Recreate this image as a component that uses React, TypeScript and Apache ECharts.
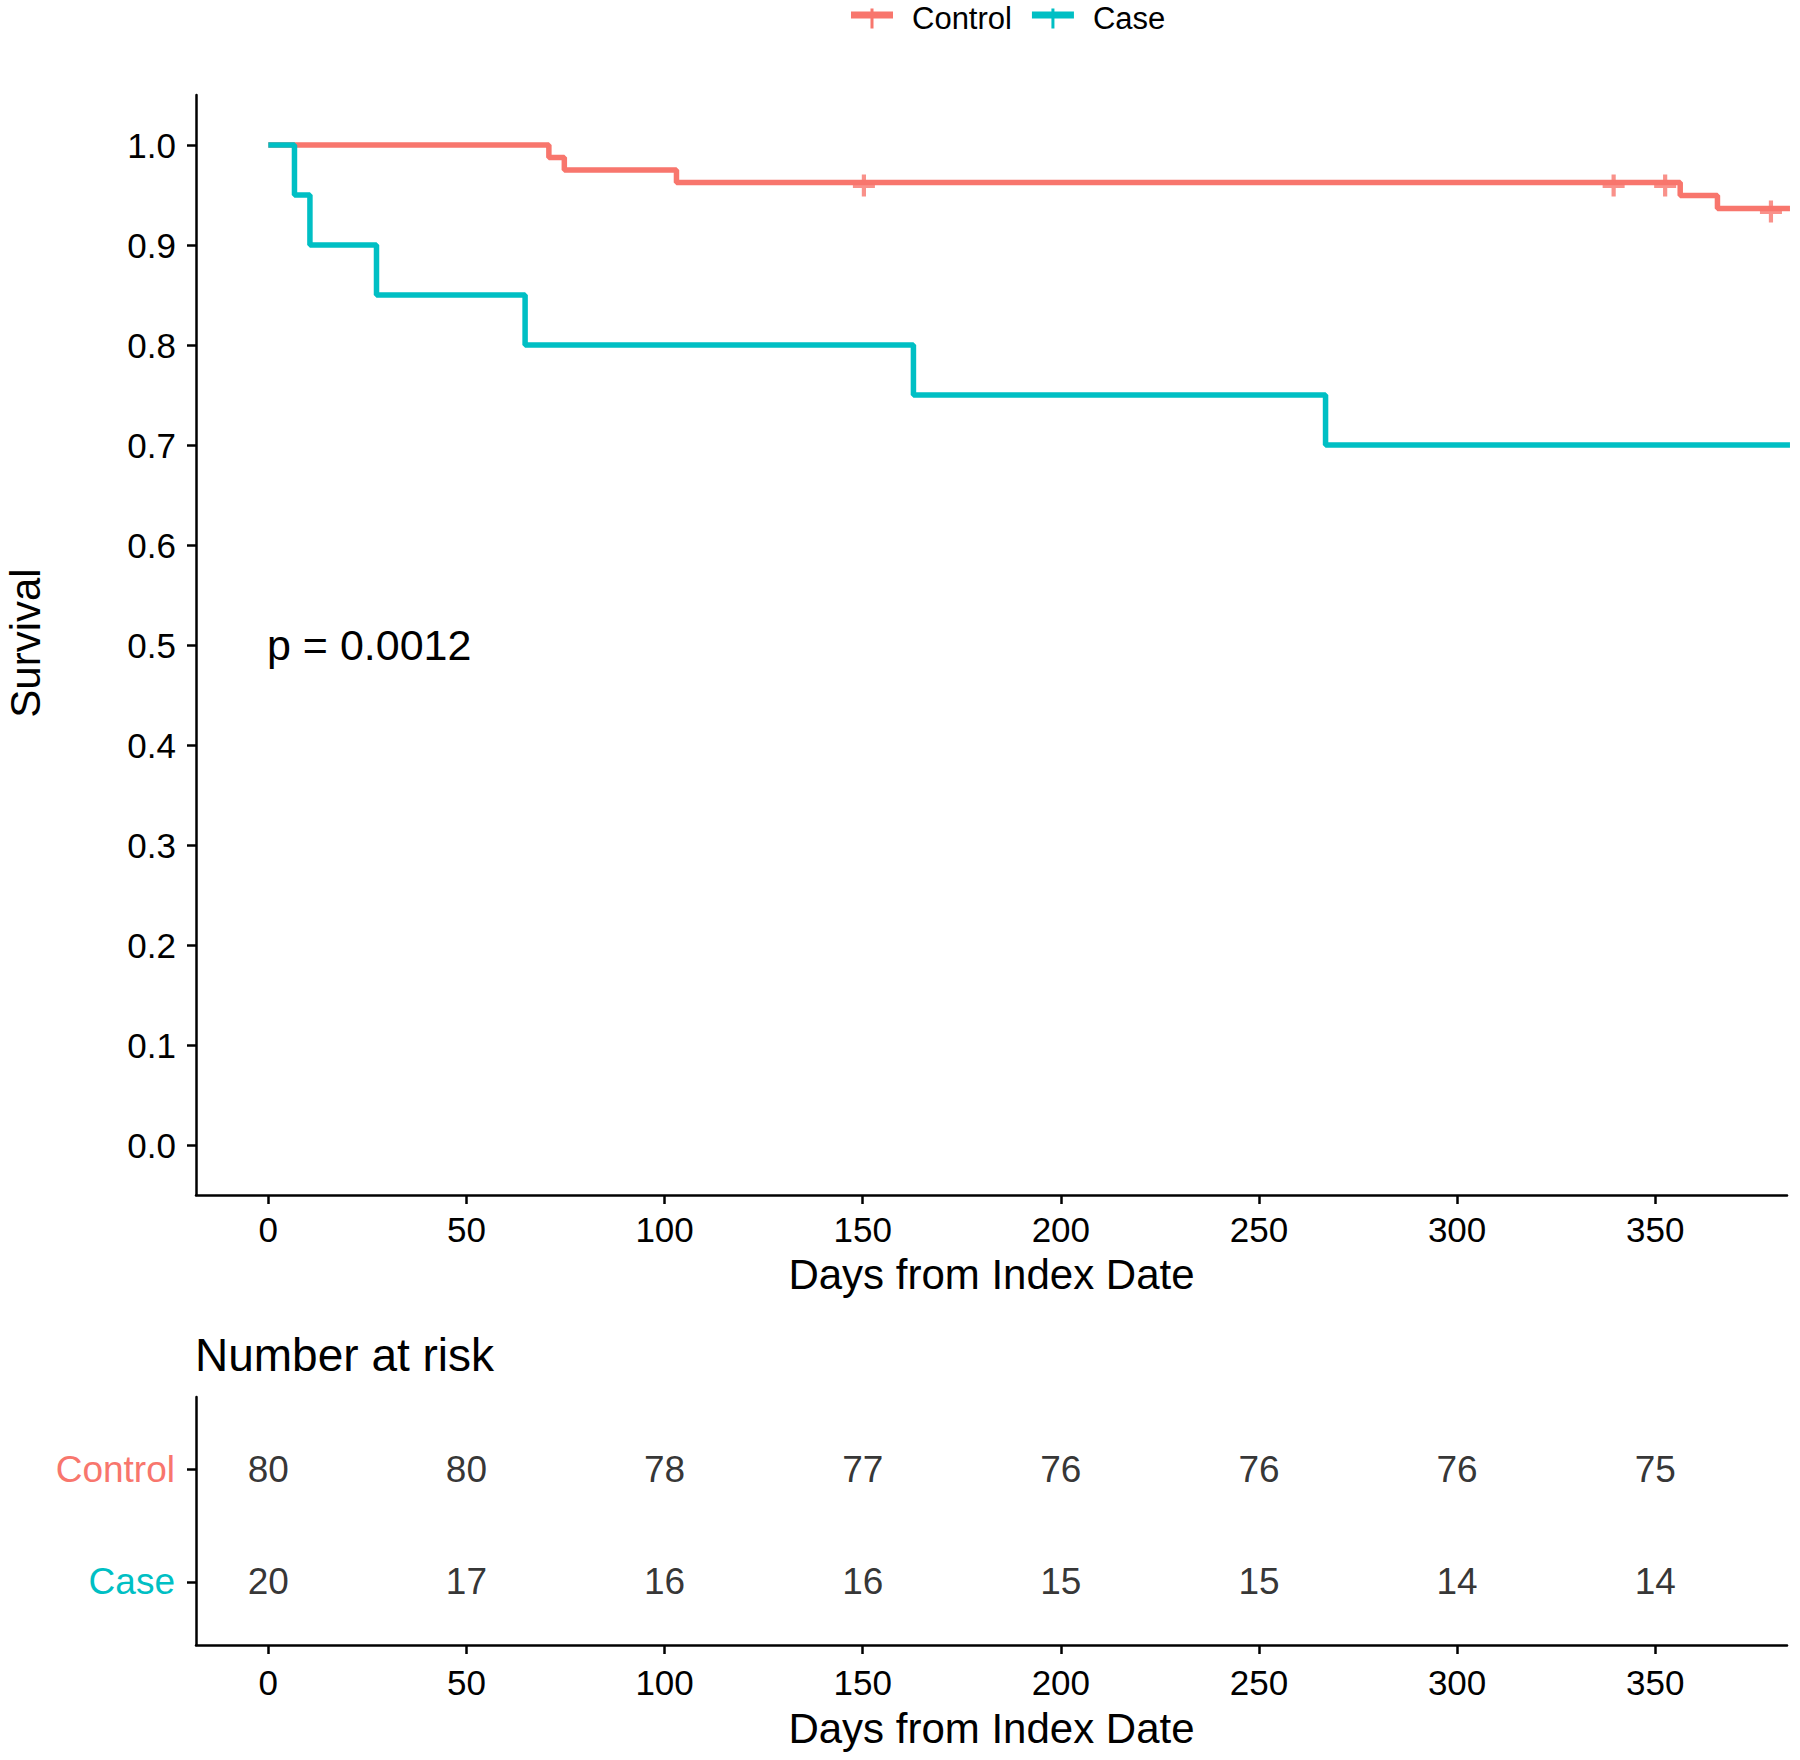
import React, { useEffect, useRef } from "react";
import * as echarts from "echarts";

// ---- Data ----
const groups = ["Control", "Case"];
const groupColors = ["#F8766D", "#00BFC4"];

const controlTimes = [0, 70.8, 74.7, 103, 356.3, 365.7, 384];
const controlSurv = [1, 0.9875, 0.975, 0.9625, 0.9495, 0.9365, 0.9365];
const controlCensorTimes = [150.3, 339.5, 352.5, 379.2];
const controlCensorSurv = [0.9625, 0.9625, 0.9625, 0.9365];

const caseTimes = [0, 6.6, 10.5, 27.3, 64.8, 162.8, 266.8, 384];
const caseSurv = [1, 0.95, 0.9, 0.85, 0.8, 0.75, 0.7, 0.7];

const riskTimes = [0, 50, 100, 150, 200, 250, 300, 350];
const controlRisk = [80, 80, 78, 77, 76, 76, 76, 75];
const caseRisk = [20, 17, 16, 16, 15, 15, 14, 14];

const xTicks = [0, 50, 100, 150, 200, 250, 300, 350];
const yTicks = [0, 0.1, 0.2, 0.3, 0.4, 0.5, 0.6, 0.7, 0.8, 0.9, 1.0];

const pValueText = "p = 0.0012";
const xTitle = "Days from Index Date";
const yTitle = "Survival";
const riskTitle = "Number at risk";

const FONT = "'Liberation Sans', Arial, Helvetica, sans-serif";
const PLUS = "path://M8.5,0 h4 v21 h-4 Z M0,8.5 h21 v4.5 h-21 Z";
const LEGEND_ICON = "path://M0,3 h42 v7 h-42 Z M19.5,0 h3 v20 h-3 Z";

export default function App() {
  const ref = useRef<HTMLDivElement>(null);

  useEffect(() => {
    if (!ref.current) return;
    const chart = echarts.init(ref.current, undefined, { renderer: "svg" });

    const axisLineStyle = { color: "#000", width: 2.5 };
    const xMin = -18.25;
    const xMax = 383.25;

    const makeX = (gridIndex: number, nameGap: number, labelMargin: number) => ({
      type: "value" as const,
      gridIndex,
      min: xMin,
      max: xMax,
      name: xTitle,
      nameLocation: "middle" as const,
      nameGap,
      nameTextStyle: { fontSize: 42, color: "#000", fontFamily: FONT },
      axisLine: { show: true, onZero: false, lineStyle: axisLineStyle },
      axisTick: { show: true, length: 9, customValues: xTicks, lineStyle: axisLineStyle },
      axisLabel: {
        show: true,
        customValues: xTicks,
        fontSize: 35,
        color: "#000",
        fontFamily: FONT,
        margin: labelMargin,
      },
      splitLine: { show: false },
    });

    const option: any = {
      animation: false,
      backgroundColor: "#fff",
      textStyle: { fontFamily: FONT },
      legend: {
        left: 846,
        top: -2,
        itemWidth: 42,
        itemHeight: 20,
        itemGap: 20,
        itemStyle: { borderWidth: 0 },
        textStyle: { fontSize: 31, color: "#000", fontFamily: FONT, padding: [0, 0, 0, 14] },
        data: groups.map((g) => ({ name: g, icon: LEGEND_ICON })),
      },
      grid: [
        { left: 196, top: 95, width: 1591, height: 1100, containLabel: false },
        { left: 196, top: 1397, width: 1591, height: 248, containLabel: false },
      ],
      xAxis: [makeX(0, 58, 17), makeX(1, 62, 20)],
      yAxis: [
        {
          type: "value",
          gridIndex: 0,
          min: -0.05,
          max: 1.05,
          axisLine: { show: true, onZero: false, lineStyle: axisLineStyle },
          axisTick: { show: true, length: 9, customValues: yTicks, lineStyle: axisLineStyle },
          axisLabel: {
            show: true,
            customValues: yTicks,
            formatter: (v: number) => Number(v).toFixed(1),
            fontSize: 35,
            color: "#000",
            fontFamily: FONT,
            margin: 20,
          },
          splitLine: { show: false },
        },
        {
          type: "value",
          gridIndex: 1,
          min: 0.44,
          max: 2.64,
          axisLine: { show: true, onZero: false, lineStyle: axisLineStyle },
          axisTick: { show: true, length: 9, customValues: [1, 2], lineStyle: axisLineStyle },
          axisLabel: {
            show: true,
            customValues: [1, 2],
            formatter: (v: number) => (Number(v) === 2 ? "{c|" + groups[0] + "}" : "{k|" + groups[1] + "}"),
            margin: 21,
            rich: {
              c: { fontSize: 37, color: groupColors[0], fontFamily: FONT },
              k: { fontSize: 37, color: groupColors[1], fontFamily: FONT },
            },
          },
          splitLine: { show: false },
        },
      ],
      graphic: [
        {
          type: "text",
          x: 25,
          y: 643,
          rotation: Math.PI / 2,
          style: {
            text: yTitle,
            fontSize: 42,
            fontFamily: FONT,
            fill: "#000",
            textAlign: "center",
            textVerticalAlign: "middle",
          },
        },
        {
          type: "text",
          x: 267,
          y: 645,
          style: {
            text: pValueText,
            fontSize: 43,
            fontFamily: FONT,
            fill: "#000",
            textAlign: "left",
            textVerticalAlign: "middle",
          },
        },
        {
          type: "text",
          x: 195,
          y: 1355,
          style: {
            text: riskTitle,
            fontSize: 46,
            fontFamily: FONT,
            fill: "#000",
            textAlign: "left",
            textVerticalAlign: "middle",
          },
        },
      ],
      series: [
        {
          name: groups[0],
          type: "line",
          xAxisIndex: 0,
          yAxisIndex: 0,
          step: "end",
          symbol: "none",
          clip: true,
          itemStyle: { color: groupColors[0] },
          lineStyle: { color: groupColors[0], width: 5.5 },
          data: controlTimes.map((t, i) => [t, controlSurv[i]]),
          z: 2,
        },
        {
          name: groups[1],
          type: "line",
          xAxisIndex: 0,
          yAxisIndex: 0,
          step: "end",
          symbol: "none",
          clip: true,
          itemStyle: { color: groupColors[1] },
          lineStyle: { color: groupColors[1], width: 5.5 },
          data: caseTimes.map((t, i) => [t, caseSurv[i]]),
          z: 3,
        },
        {
          name: "Control censored",
          type: "scatter",
          xAxisIndex: 0,
          yAxisIndex: 0,
          symbol: PLUS,
          symbolSize: 22,
          symbolOffset: [0, 3],
          itemStyle: { color: groupColors[0] },
          data: controlCensorTimes.map((t, i) => [t, controlCensorSurv[i]]),
          z: 4,
        },
        {
          name: "Control at risk",
          type: "scatter",
          xAxisIndex: 1,
          yAxisIndex: 1,
          symbolSize: 1,
          itemStyle: { color: "rgba(0,0,0,0)" },
          label: {
            show: true,
            position: "inside",
            formatter: (p: any) => String(p.value[2]),
            fontSize: 37,
            color: "#000",
            fontFamily: FONT,
          },
          data: riskTimes.map((t, i) => [t, 2, controlRisk[i]]),
        },
        {
          name: "Case at risk",
          type: "scatter",
          xAxisIndex: 1,
          yAxisIndex: 1,
          symbolSize: 1,
          itemStyle: { color: "rgba(0,0,0,0)" },
          label: {
            show: true,
            position: "inside",
            formatter: (p: any) => String(p.value[2]),
            fontSize: 37,
            color: "#000",
            fontFamily: FONT,
          },
          data: riskTimes.map((t, i) => [t, 1, caseRisk[i]]),
        },
      ],
    };

    chart.setOption(option);
    return () => {
      chart.dispose();
    };
  }, []);

  return (
    <div
      ref={ref}
      style={{ position: "absolute", left: 0, top: 0, width: 1800, height: 1760 }}
    />
  );
}
